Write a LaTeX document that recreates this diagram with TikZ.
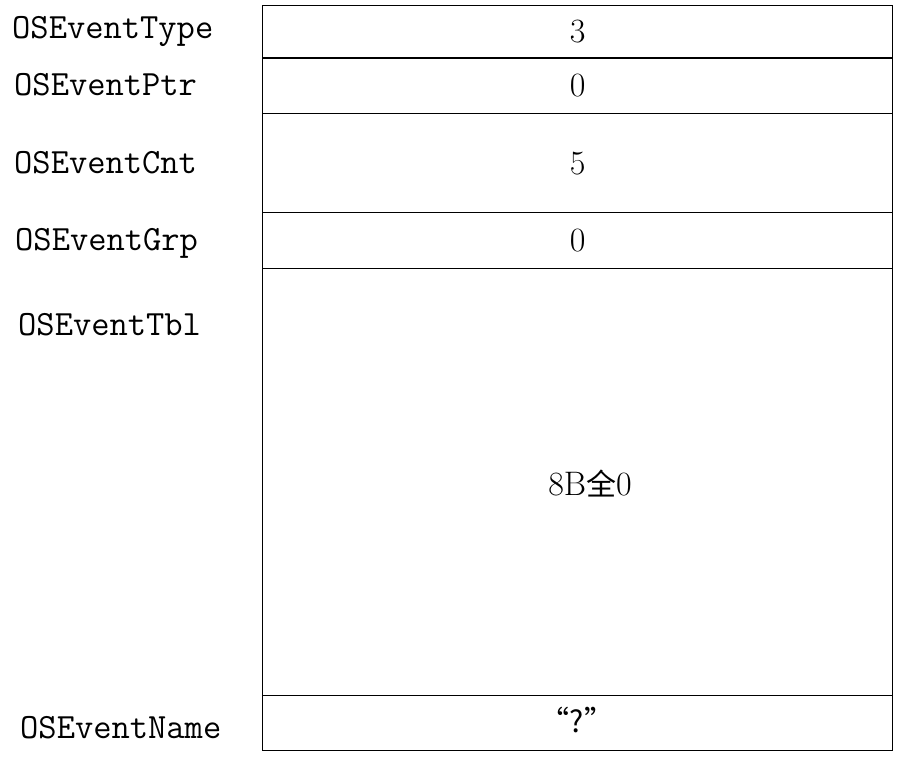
\documentclass[tikz,border=0pt]{standalone}
\usepackage{fontspec}
\newfontfamily\cjk{Noto Sans CJK SC}
\begin{document}
\begin{tikzpicture}[x=1pt,y=-1pt,
  lbl/.style={anchor=west, inner sep=0pt, font=\fontsize{35.5}{40}\selectfont\ttfamily},
  cell/.style={draw, line width=1.3pt, anchor=north west, inner sep=0pt, minimum width=630pt,
    font=\fontsize{34}{40}\selectfont\rmfamily}]
\useasboundingbox (0,0) rectangle (907,757);
\node[cell, minimum height=52.5pt] (c1) at (262,5) {3};
\node[cell, minimum height=55.5pt] (c2) at (262,57.5) {0};
\node[cell, minimum height=99pt] (c3) at (262,113) {5};
\node[cell, minimum height=56pt] (c4) at (262,212) {0};
\node[cell, minimum height=427pt] (c5) at (262,268) {};
\node[cell, minimum height=55pt] (c6) at (262,695) {};
\node[inner sep=0pt, font=\fontsize{34}{40}\selectfont\rmfamily] (t5) at (590,484) {8B{\cjk\fontsize{30}{36}\selectfont 全}0};
\node[inner sep=0pt, font=\fontsize{30}{36}\selectfont\cjk] (t6) at (577,720) {“?”};
\node[lbl] (l1) at (12,31) {OSEventType};
\node[lbl] (l2) at (14,85) {OSEventPtr};
\node[lbl] (l3) at (14,163) {OSEventCnt};
\node[lbl] (l4) at (15,243) {OSEventGrp};
\node[lbl] (l5) at (18,325) {OSEventTbl};
\node[lbl] (l6) at (20,728) {OSEventName};
\end{tikzpicture}
\end{document}
